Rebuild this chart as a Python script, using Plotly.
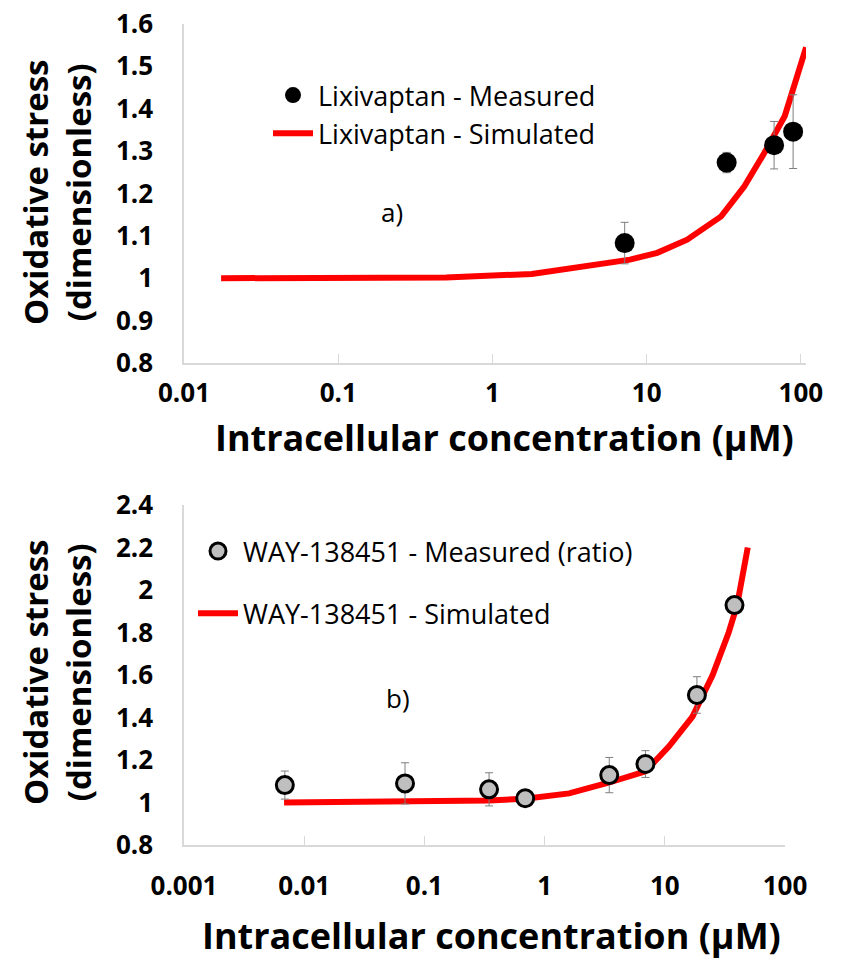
import plotly.graph_objects as go

# ---------- data: panel a) Lixivaptan ----------
lix_meas_x = [7.2, 33, 67, 89]
lix_meas_y = [1.083, 1.273, 1.314, 1.346]
lix_meas_err = [0.049, 0.024, 0.056, 0.087]
lix_sim_x = [0.0174, 0.1, 0.5, 1.8, 7.8, 11.7, 18.3, 30.4, 43, 58, 78.6, 108]
lix_sim_y = [1.0, 1.0005, 1.002, 1.01, 1.044, 1.06, 1.091, 1.146, 1.217, 1.296, 1.383, 1.545]

# ---------- data: panel b) WAY-138451 ----------
way_meas_x = [0.0069, 0.069, 0.345, 0.69, 3.45, 6.9, 18.5, 38]
way_meas_y = [1.082, 1.09, 1.062, 1.02, 1.129, 1.181, 1.506, 1.929]
way_meas_err = [0.066, 0.097, 0.078, 0.01, 0.083, 0.063, 0.086, 0.02]
way_sim_x = [0.0068, 0.069, 0.345, 0.69, 1.6, 3.4, 6.9, 10.8, 17, 25, 34, 40, 49]
way_sim_y = [1.0, 1.005, 1.01, 1.018, 1.043, 1.093, 1.147, 1.263, 1.404, 1.6, 1.8, 1.93, 2.2]

# ---------- ticks ----------
top_xticks = [0.01, 0.1, 1, 10, 100]
top_xtext = ["0.01", "0.1", "1", "10", "100"]
top_yticks = [0.8, 0.9, 1.0, 1.1, 1.2, 1.3, 1.4, 1.5, 1.6]
top_ytext = ["0.8", "0.9", "1", "1.1", "1.2", "1.3", "1.4", "1.5", "1.6"]
bot_xticks = [0.001, 0.01, 0.1, 1, 10, 100]
bot_xtext = ["0.001", "0.01", "0.1", "1", "10", "100"]
bot_yticks = [0.8, 1.0, 1.2, 1.4, 1.6, 1.8, 2.0, 2.2, 2.4]
bot_ytext = ["0.8", "1", "1.2", "1.4", "1.6", "1.8", "2", "2.2", "2.4"]

W, H = 862, 961
FONT = "Open Sans"
RED = "#FF0000"
AXC = "#D9D9D9"

fig = go.Figure()

fig.add_trace(go.Scatter(
    x=lix_sim_x, y=lix_sim_y, mode="lines", name="Lixivaptan - Simulated",
    line=dict(color=RED, width=6), xaxis="x", yaxis="y", legend="legend",
    legendgroup="a2", legendrank=2))
fig.add_trace(go.Scatter(
    x=lix_meas_x, y=lix_meas_y, mode="markers", name="Lixivaptan - Measured",
    marker=dict(color="black", size=20),
    error_y=dict(type="data", array=lix_meas_err, color="#7F7F7F", thickness=1, width=4),
    xaxis="x", yaxis="y", legend="legend", legendgroup="a1", legendrank=1))

fig.add_trace(go.Scatter(
    x=way_sim_x, y=way_sim_y, mode="lines", name="WAY-138451 - Simulated",
    line=dict(color=RED, width=6), xaxis="x2", yaxis="y2", legend="legend2",
    legendgroup="b2", legendrank=2))
fig.add_trace(go.Scatter(
    x=way_meas_x, y=way_meas_y, mode="markers", name="WAY-138451 - Measured (ratio)",
    marker=dict(color="#BFBFBF", size=17, line=dict(color="black", width=3)),
    error_y=dict(type="data", array=way_meas_err, color="#7F7F7F", thickness=1, width=4),
    xaxis="x2", yaxis="y2", legend="legend2", legendgroup="b1", legendrank=1))

tickfont = dict(family=FONT, size=26, color="black", weight="bold")

def xa(domain, rng, tv, tt, anchor, standoff):
    return dict(domain=domain, type="log", range=rng, tickvals=tv, ticktext=tt,
                showline=True, linecolor=AXC, linewidth=1.5, ticks="inside",
                ticklen=9, tickcolor=AXC, showgrid=False, zeroline=False,
                tickfont=tickfont, anchor=anchor, ticklabelstandoff=standoff,
                automargin=False)

def ya(domain, rng, tv, tt, anchor):
    return dict(domain=domain, range=rng, tickvals=tv, ticktext=tt,
                showline=True, linecolor=AXC, linewidth=1.5, ticks="",
                showgrid=False, zeroline=False, tickfont=tickfont,
                anchor=anchor, ticklabelstandoff=24, automargin=False)

fig.update_layout(
    width=W, height=H, margin=dict(l=0, r=0, t=0, b=0, autoexpand=False),
    paper_bgcolor="white", plot_bgcolor="white",
    xaxis=xa([184 / W, 806 / W], [-2, 2.033], top_xticks, top_xtext, "y", 6),
    yaxis=ya([1 - 363 / H, 1 - 24 / H], [0.8, 1.6], top_yticks, top_ytext, "x"),
    xaxis2=xa([184 / W, 785 / W], [-3, 2], bot_xticks, bot_xtext, "y2", 17),
    yaxis2=ya([1 - 845 / H, 1 - 505 / H], [0.8, 2.4], bot_yticks, bot_ytext, "x2"),
    legend=dict(x=268 / W, y=1 - 71 / H, xanchor="left", yanchor="top",
                bgcolor="rgba(0,0,0,0)", traceorder="grouped", tracegroupgap=0,
                font=dict(family=FONT, size=27, color="black"), itemwidth=40),
    legend2=dict(x=193 / W, y=1 - 527 / H, xanchor="left", yanchor="top",
                 bgcolor="rgba(0,0,0,0)", traceorder="grouped", tracegroupgap=24,
                 font=dict(family=FONT, size=27, color="black"), itemwidth=40),
    showlegend=True,
)

ytitlefont = dict(family=FONT, size=33, color="black", weight="bold")
xtitlefont = dict(family=FONT, size=36, color="black", weight="bold")
for yc in (193, 673):
    fig.add_annotation(text="Oxidative stress<br>(dimensionless)", textangle=-90,
                       x=57 / W, y=1 - yc / H, xref="paper", yref="paper",
                       xanchor="center", yanchor="middle",
                       showarrow=False, font=ytitlefont)
fig.add_annotation(text="Intracellular concentration (\u03bcM)",
                   x=504 / W, y=1 - 437 / H, xref="paper", yref="paper",
                   xanchor="center", yanchor="middle",
                   showarrow=False, font=xtitlefont)
fig.add_annotation(text="Intracellular concentration (\u03bcM)",
                   x=492 / W, y=1 - 935 / H, xref="paper", yref="paper",
                   xanchor="center", yanchor="middle",
                   showarrow=False, font=xtitlefont)
fig.add_annotation(text="a)", x=392 / W, y=1 - 212 / H, xref="paper", yref="paper",
                   xanchor="center", yanchor="middle",
                   showarrow=False, font=dict(family=FONT, size=26, color="black"))
fig.add_annotation(text="b)", x=398 / W, y=1 - 698 / H, xref="paper", yref="paper",
                   xanchor="center", yanchor="middle",
                   showarrow=False, font=dict(family=FONT, size=26, color="black"))

fig.write_html("out.html")
